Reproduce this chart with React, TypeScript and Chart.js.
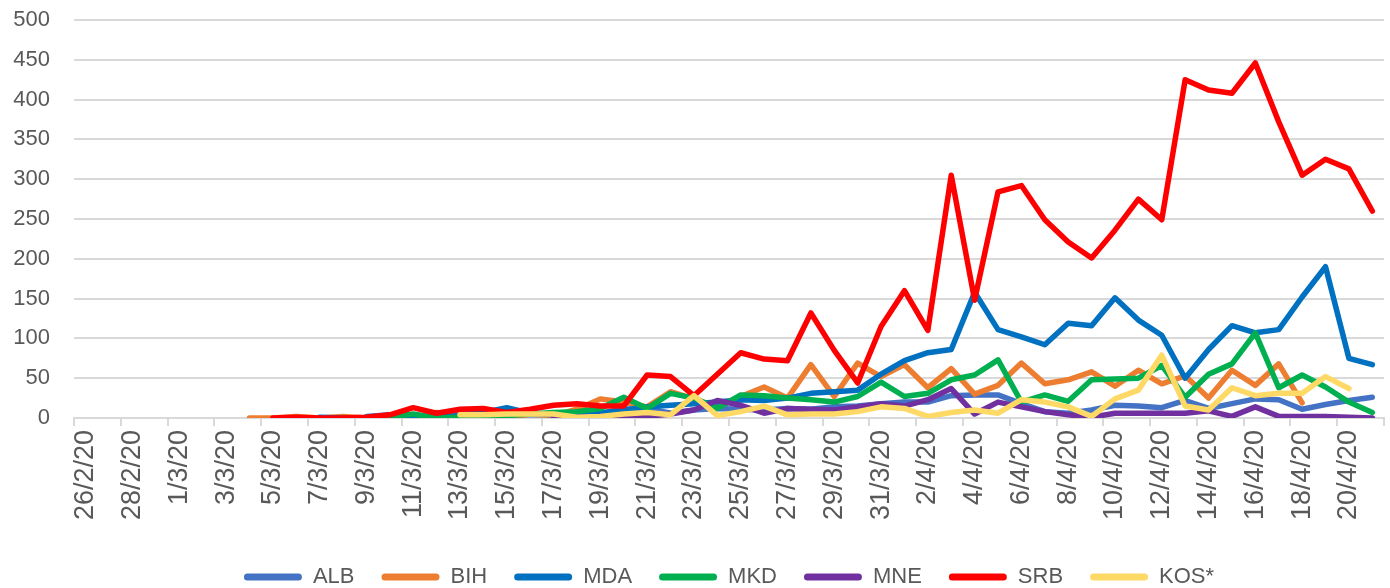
import React, { useEffect, useRef } from "react";
import { Chart, registerables } from "chart.js";

Chart.register(...registerables);

const categories = [
  "26/2/20", "27/2/20", "28/2/20", "29/2/20",
  "1/3/20", "2/3/20", "3/3/20", "4/3/20", "5/3/20", "6/3/20", "7/3/20", "8/3/20", "9/3/20", "10/3/20",
  "11/3/20", "12/3/20", "13/3/20", "14/3/20", "15/3/20", "16/3/20", "17/3/20", "18/3/20", "19/3/20", "20/3/20",
  "21/3/20", "22/3/20", "23/3/20", "24/3/20", "25/3/20", "26/3/20", "27/3/20", "28/3/20", "29/3/20", "30/3/20", "31/3/20",
  "1/4/20", "2/4/20", "3/4/20", "4/4/20", "5/4/20", "6/4/20", "7/4/20", "8/4/20", "9/4/20", "10/4/20",
  "11/4/20", "12/4/20", "13/4/20", "14/4/20", "15/4/20", "16/4/20", "17/4/20", "18/4/20", "19/4/20", "20/4/20", "21/4/20",
];

const N = null;

const ALB = [
  N, N, N, N, N, N, N, N, N, N, N, N,
  2, 4, 4, 1, 10, 10, 4, 4, 4, 6, 6, 11, 12, 6, 10, 12, 11, 10, 12, 11, 14, 15, 18, 20, 20, 28, 29, 29,
  18, 8, 6, 10, 16, 15, 13, 22, 12, 18, 24, 23, 11, 17, 22, 26,
];

const BIH = [
  N, N, N, N, N, N, N,
  0, 0, 2, 0, 2, 0, 2, 0, 7, 3, 3, 0, 5, 3, 11, 24, 20, 14, 33, 24, 14, 27, 39, 25, 67, 27, 69, 52, 67, 38,
  62, 30, 41, 69, 43, 48, 58, 40, 60, 43, 53, 25, 60, 41, 68, 19,
  N, N, N,
];

const MDA = [
  N, N, N, N, N, N, N, N, N, N,
  1, 0, 0, 2, 2, 1, 3, 7, 13, 6, 4, 7, 6, 10, 14, 16, 18, 20, 23, 22, 25, 31, 33, 35, 55, 72, 82, 86,
  158, 111, 102, 92, 119, 116, 151, 123, 104, 50, 86, 116, 107, 111, 152, 190, 75, 67,
];

const MKD = [
  N, N, N, N, N, N, N, N, N, N, N, N, N,
  1, 5, 0, 1, 1, 3, 5, 7, 8, 12, 26, 12, 31, 25, 12, 29, 28, 25, 23, 20, 27, 45, 27, 31, 48, 54, 73,
  20, 29, 21, 48, 49, 50, 66, 26, 55, 68, 107, 38, 54, 39, 20, 7,
];

const MNE = [
  N, N, N, N, N, N, N, N, N, N, N, N, N, N, N, N, N, N, N, N,
  1, 1, 2, 2, 2, 5, 10, 22, 16, 6, 12, 11, 10, 14, 18, 15, 23, 37, 5, 20,
  14, 8, 4, 1, 6, 6, 6, 6, 9, 2, 14, 2, 2, 2, 1, 0,
];

const SRB = [
  N, N, N, N, N, N, N, N,
  0, 1, 0, 0, 1, 4, 13, 6, 11, 12, 7, 11, 16, 18, 15, 15, 54, 52, 28, 55, 82, 74, 72, 132, 85, 44, 115, 160,
  110, 305, 148, 284, 292, 249, 221, 201, 236, 275, 249, 425, 412, 408, 446, 372, 305, 325, 313, 260,
];

const KOS = [
  N, N, N, N, N, N, N, N, N, N, N, N, N, N, N, N,
  4, 4, 5, 5, 5, 1, 2, 5, 7, 4, 28, 3, 8, 15, 4, 5, 5, 8, 14, 12, 2, 7, 10, 6,
  23, 20, 14, 2, 24, 35, 79, 15, 10, 38, 28, 31, 31, 52, 37,
  N,
];

const seriesNames = ["ALB", "BIH", "MDA", "MKD", "MNE", "SRB", "KOS*"];
const seriesData = [ALB, BIH, MDA, MKD, MNE, SRB, KOS];
const seriesColors = ["#4472C4", "#ED7D31", "#0070C0", "#00B050", "#7030A0", "#FF0000", "#FFD966"];

const yTicks = { min: 0, max: 500, step: 50 };

const FONT = "'Liberation Sans', Arial, sans-serif";
const TEXT = "#595959";
const GRID = "#d9d9d9";

const LEGEND_FONT = 22;
const LEGEND_PAD = 27;

const legendShift = {
  id: "legendShift",
  afterLayout(chart: any) {
    const l = chart.legend;
    if (l) {
      l.top += 10;
      l.bottom += 10;
    }
  },
};

export default function App() {
  const ref = useRef<HTMLCanvasElement | null>(null);

  useEffect(() => {
    if (!ref.current) return;
    const chart = new Chart(ref.current, {
      type: "line",
      data: {
        labels: categories,
        datasets: seriesNames.map((name, i) => ({
          label: name,
          data: seriesData[i],
          borderColor: seriesColors[i],
          backgroundColor: seriesColors[i],
          borderWidth: 5.5,
          pointRadius: 0,
          pointHoverRadius: 0,
          tension: 0,
          fill: false,
          spanGaps: false,
          borderJoinStyle: "round",
          borderCapStyle: "round",
          order: seriesNames.length - i,
        })),
      },
      options: {
        animation: false,
        responsive: false,
        layout: { padding: { top: 20, right: 6, left: 0, bottom: 0 } },
        plugins: {
          tooltip: { enabled: false },
          legend: {
            position: "bottom",
            fullSize: false,
            labels: {
              boxWidth: 58,
              boxHeight: 7,
              padding: LEGEND_PAD,
              color: TEXT,
              font: { family: FONT, size: LEGEND_FONT },
              useBorderRadius: true,
              borderRadius: 3.5,
              sort: (a: any, b: any) => a.datasetIndex - b.datasetIndex,
              generateLabels: (c: any) =>
                (Chart.defaults.plugins.legend.labels.generateLabels as any)(c).map((it: any) => ({
                  ...it,
                  lineWidth: 0,
                  borderRadius: 3.5,
                })),
            },
          },
        },
        scales: {
          x: {
            type: "category",
            offset: true,
            grid: {
              display: true,
              drawOnChartArea: false,
              drawTicks: true,
              tickLength: 8,
              offset: true,
              lineWidth: 2,
              color: (ctx: any) =>
                ctx.index === undefined || ctx.index % 2 === 0 ? GRID : "rgba(0,0,0,0)",
            },
            border: { display: true, color: GRID, width: 2 },
            ticks: {
              autoSkip: false,
              minRotation: 90,
              maxRotation: 90,
              padding: 4,
              color: TEXT,
              font: { family: FONT, size: 27 },
              callback: function (this: any, v: any, i: number) {
                return i % 2 === 0 ? this.getLabelForValue(v) : "";
              },
            },
            afterFit: (s: any) => {
              s.height = 170 - (LEGEND_FONT + LEGEND_PAD + 10);
              s.paddingLeft = 0;
              s.paddingRight = 0;
            },
          },
          y: {
            min: yTicks.min,
            max: yTicks.max,
            ticks: {
              stepSize: yTicks.step,
              padding: 0,
              color: TEXT,
              font: { family: FONT, size: 22 },
            },
            grid: {
              color: GRID,
              lineWidth: 2,
              drawTicks: true,
              tickLength: 24,
              tickColor: "rgba(0,0,0,0)",
            },
            border: { display: false },
            afterFit: (s: any) => {
              s.width = 74;
            },
          },
        },
      } as any,
      plugins: [legendShift],
    });
    return () => chart.destroy();
  }, []);

  return (
    <div style={{ position: "fixed", left: 0, top: 0, width: 1390, height: 588, background: "#fff" }}>
      <canvas ref={ref} width={1390} height={588} />
    </div>
  );
}
